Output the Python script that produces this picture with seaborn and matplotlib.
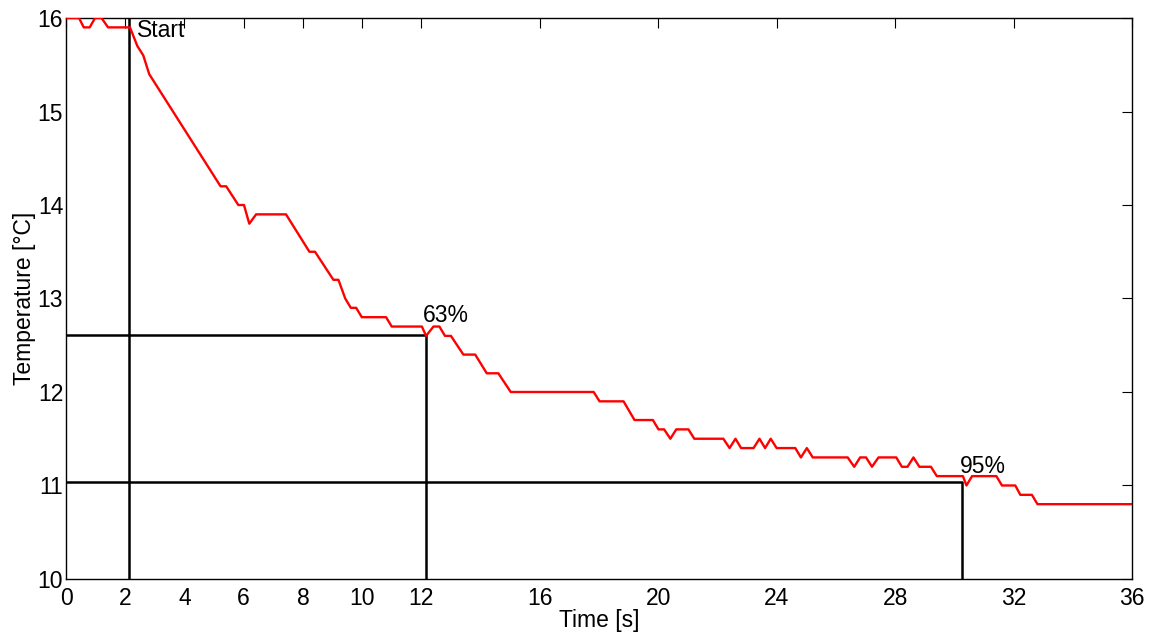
import matplotlib
matplotlib.use("Agg")
import matplotlib.pyplot as plt
import seaborn as sns
import pandas as pd

# Measured temperature step response (vertices of the recorded trace)
time_s = [0, 0.44, 0.6, 0.8, 0.98, 1.2, 1.42, 2.16, 2.41, 2.61, 2.81, 5.22, 5.41,
          5.82, 6.01, 6.19, 6.42, 7.43, 8.22, 8.41, 9.03, 9.2, 9.43, 9.62, 9.8,
          9.99, 10.81, 11.0, 12.02, 12.16, 12.41, 12.61, 12.8, 13.0, 13.42, 13.82,
          14.21, 14.6, 15.02, 17.82, 18.02, 18.83, 19.2, 19.82, 20.01, 20.2, 20.41,
          20.61, 21.02, 21.22, 22.2, 22.41, 22.61, 22.8, 23.22, 23.42, 23.61, 23.8,
          24.0, 24.63, 24.82, 25.02, 25.22, 26.4, 26.62, 26.82, 27.02, 27.22, 27.44,
          28.04, 28.23, 28.42, 28.62, 28.82, 29.21, 29.41, 30.29, 30.41, 30.6, 31.42,
          31.61, 32.06, 32.23, 32.62, 32.81, 36.0]
temp_c = [16, 16, 15.9, 15.9, 16, 16, 15.9, 15.9, 15.7, 15.6, 15.4, 14.2, 14.2,
          14.0, 14.0, 13.8, 13.9, 13.9, 13.5, 13.5, 13.2, 13.2, 13.0, 12.9, 12.9,
          12.8, 12.8, 12.7, 12.7, 12.6, 12.7, 12.7, 12.6, 12.6, 12.4, 12.4,
          12.2, 12.2, 12.0, 12.0, 11.9, 11.9, 11.7, 11.7, 11.6, 11.6, 11.5,
          11.6, 11.6, 11.5, 11.5, 11.4, 11.5, 11.4, 11.4, 11.5, 11.4, 11.5,
          11.4, 11.4, 11.3, 11.4, 11.3, 11.3, 11.2, 11.3, 11.3, 11.2, 11.3,
          11.3, 11.2, 11.2, 11.3, 11.2, 11.2, 11.1, 11.1, 11.0, 11.1, 11.1,
          11.0, 11.0, 10.9, 10.9, 10.8, 10.8]

# Characteristic points
t_start = 2.13
t_63, temp_63 = 12.16, 12.61
t_95, temp_95 = 30.27, 11.04

x_ticks = [0, 2, 4, 6, 8, 10, 12, 16, 20, 24, 28, 32, 36]
y_ticks = [10, 11, 12, 13, 14, 15, 16]

sns.set_style("white")
plt.rcParams["font.family"] = ["Liberation Sans", "DejaVu Sans"]
plt.rcParams.update({
    "xtick.direction": "in",
    "ytick.direction": "in",
    "text.color": "black",
    "axes.labelcolor": "black",
    "xtick.color": "black",
    "ytick.color": "black",
})

FS = 16.5

fig = plt.figure(figsize=(11.54, 6.37), dpi=100)
ax = fig.add_axes([0.0572, 0.0911, 0.9237, 0.8806])

df = pd.DataFrame({"Time": time_s, "Temperature": temp_c})
sns.lineplot(data=df, x="Time", y="Temperature", color="#ff0000", lw=1.7,
             estimator=None, sort=False, ax=ax, zorder=3)

# Start marker and 63% / 95% guide lines
guides = pd.DataFrame({
    "x": [t_start, t_start, 0, t_63, t_63, 0, t_95, t_95],
    "y": [10, 16, temp_63, temp_63, 10, temp_95, temp_95, 10],
    "g": ["s", "s", "a", "a", "a", "b", "b", "b"],
})
for key, sub in guides.groupby("g"):
    sns.lineplot(data=sub, x="x", y="y", color="black", lw=1.8,
                 estimator=None, sort=False, ax=ax, zorder=2)

ax.text(2.4, 15.80, "Start", fontsize=FS, va="baseline", ha="left")
ax.text(12.06, 12.75, "63%", fontsize=FS, va="baseline", ha="left")
ax.text(30.2, 11.13, "95%", fontsize=FS, va="baseline", ha="left")

ax.set_xlim(0, 36)
ax.set_ylim(10, 16)
ax.set_xticks(x_ticks)
ax.set_yticks(y_ticks)
ax.tick_params(axis="both", which="both", length=7, width=0.8, labelsize=FS,
               top=True, right=True, color="black")
ax.tick_params(axis="x", pad=6)
ax.tick_params(axis="y", pad=2)
ax.set_xlabel("Time [s]", fontsize=FS, labelpad=-1)
ax.set_ylabel("Temperature [°C]", fontsize=FS, labelpad=1)
for sp in ax.spines.values():
    sp.set_visible(True)
    sp.set_color("black")
    sp.set_linewidth(1.0)

fig.savefig("out.png", dpi=100)
